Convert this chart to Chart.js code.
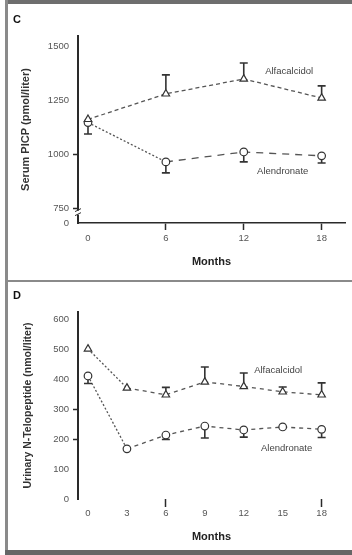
<!DOCTYPE html>
<html><head><meta charset="utf-8">
<script src="https://cdn.jsdelivr.net/npm/chart.js@4"></script>
<style>
html,body{margin:0;padding:0;background:#fff;width:352px;height:555px;overflow:hidden;position:relative}
.f{position:absolute;background:#7a7a7a}
canvas{position:absolute;left:0}
</style></head><body>
<div class="f" style="left:5px;top:0;width:347px;height:4px;background:#6e6e6e"></div>
<div class="f" style="left:5px;top:0;width:3px;height:555px;background:#8a8a8a"></div>
<div class="f" style="left:5px;top:280px;width:347px;height:2px;background:#8a8a8a"></div>
<div class="f" style="left:5px;top:550px;width:347px;height:5px;background:#666"></div>
<canvas id="c" width="352" height="280" style="top:0"></canvas>
<canvas id="d" width="352" height="268" style="top:282px"></canvas>
<script>
// ---- Panel C data ----
const monthsC = [0, 6, 12, 18];
const alfaC = [1160, 1278, 1347, 1259];
const alfaCErr = [0, 88, 74, 56];
const alenC = [1145, 963, 1009, 991];
const alenCErr = [53, 51, 46, 33];
const yTicksC = [750, 1000, 1250, 1500];

// ---- Panel D data ----
const monthsD = [0, 3, 6, 9, 12, 15, 18];
const alfaD = [500, 370, 347, 390, 375, 357, 347];
const alfaDErr = [0, 0, 25, 50, 45, 16, 40];
const alenD = [410, 167, 213, 243, 230, 240, 232];
const alenDErr = [25, 0, 15, 40, 24, 0, 27];
const yTicksD = [0, 100, 200, 300, 400, 500, 600];

const FONT = "'Liberation Sans', Arial, sans-serif";
const INK = '#2a2a2a';

function pts(xs, ys){ return xs.map((x,i)=>({x:x, y:ys[i]})); }

const errPlugin = {
  id:'err',
  afterDatasetsDraw(chart){
    const ctx = chart.ctx, xs = chart.scales.x, ys = chart.scales.y;
    chart.data.datasets.forEach(ds=>{
      if(!ds.err) return;
      ctx.save();
      ctx.strokeStyle = '#333'; ctx.lineWidth = 1.6;
      ds.data.forEach((p,i)=>{
        const e = ds.err[i]; if(!e) return;
        const px = xs.getPixelForValue(p.x);
        const y0 = ys.getPixelForValue(p.y);
        const y1 = ys.getPixelForValue(p.y + ds.errDir*e);
        ctx.beginPath(); ctx.moveTo(px, y0 + (ds.errDir>0?-4:4)); ctx.lineTo(px, y1);
        ctx.moveTo(px-4, y1); ctx.lineTo(px+4, y1); ctx.stroke();
      });
      ctx.restore();
    });
  }
};

function textPlugin(opts){
  return {
    id:'txt',
    afterDraw(chart){
      const ctx = chart.ctx, a = chart.chartArea, xs = chart.scales.x, ys = chart.scales.y;
      ctx.save();
      // y tick marks
      ctx.strokeStyle = INK; ctx.lineWidth = 1.5;
      opts.yTickShow.forEach(v=>{
        const y = Math.round(ys.getPixelForValue(v)) + 0.5;
        ctx.beginPath(); ctx.moveTo(a.left - 5, y); ctx.lineTo(a.left, y); ctx.stroke();
      });
      // panel letter
      ctx.fillStyle = '#111'; ctx.font = 'bold 11px ' + FONT;
      ctx.textAlign = 'left'; ctx.textBaseline = 'middle';
      ctx.fillText(opts.letter, 13, opts.letterY);
      // y title
      ctx.save();
      ctx.translate(opts.yTitleX, (a.top + a.bottom)/2 + opts.yTitleDy);
      ctx.rotate(-Math.PI/2);
      ctx.textAlign = 'center'; ctx.fillStyle = '#333';
      ctx.font = 'bold ' + opts.yTitleSize + 'px ' + FONT;
      ctx.fillText(opts.yTitle, 0, 0);
      ctx.restore();
      // x title
      ctx.fillStyle = '#222'; ctx.font = 'bold 11px ' + FONT; ctx.textAlign = 'center';
      ctx.fillText('Months', (a.left + a.right)/2, opts.xTitleY);
      // series labels
      ctx.fillStyle = '#444'; ctx.font = '9.5px ' + FONT;
      opts.labels.forEach(l=>{
        ctx.fillText(l.t, xs.getPixelForValue(l.x), ys.getPixelForValue(l.y));
      });
      // axis break
      if(opts.brk){
        const x = a.left, yb = ys.getPixelForValue(opts.brk);
        ctx.fillStyle = '#fff'; ctx.fillRect(x-3, yb-2, 6, 4);
        ctx.strokeStyle = '#333'; ctx.lineWidth = 1;
        ctx.beginPath();
        ctx.moveTo(x-3, yb-1); ctx.lineTo(x+3, yb-4);
        ctx.moveTo(x-3, yb+3); ctx.lineTo(x+3, yb);
        ctx.stroke();
      }
      ctx.restore();
    }
  };
}

function tickCol(list){ return c => (c.tick && list.includes(c.tick.value)) ? INK : 'rgba(0,0,0,0)'; }

function makeChart(id, cfg){
  return new Chart(document.getElementById(id), {
    type:'line',
    data:{ datasets: cfg.datasets },
    options:{
      responsive:false, animation:false,
      layout:{ padding:{ top: cfg.top, right:7, left:0, bottom:0 } },
      plugins:{ legend:{display:false}, tooltip:{enabled:false} },
      scales:{
        x:{ type:'linear', min:-0.77, max:19.8,
            afterBuildTicks: s => { s.ticks = cfg.xTicks.map(v=>({value:v})); },
            afterFit: s => { s.height = cfg.xH; },
            grid:{ drawOnChartArea:false, drawTicks:true, tickLength: cfg.xTickLen, tickColor: tickCol(cfg.xTickShow), tickWidth:1.5 },
            border:{ display: cfg.xBorder, color:INK, width:1.6 },
            ticks:{ color:'#555', font:{ family:FONT, size:9.5 }, padding: cfg.xPad, autoSkip:false, maxRotation:0 } },
        y:{ type:'linear', min: cfg.yMin, max: cfg.yMax,
            afterBuildTicks: s => { s.ticks = cfg.yTicks.map(v=>({value:v})); },
            afterFit: s => { s.width = 78; },
            grid:{ drawOnChartArea:false, drawTicks:true, tickLength:5, color:'rgba(0,0,0,0)' },
            border:{ display:true, color:INK, width:2 },
            ticks:{ color:'#555', font:{ family:FONT, size:9.5 }, padding:4, autoSkip:false,
                    callback: cfg.yLabel } }
      }
    },
    plugins:[errPlugin, textPlugin(Object.assign({yTickShow: cfg.yTickShow}, cfg.text))]
  });
}

function ds(data, style, err, dir, dashFn){
  return { data, err, errDir: dir, borderColor:'#555', borderWidth:1.3,
    pointStyle: style, pointRadius: style==='triangle'?4.3:3.8, pointBorderWidth:1.2,
    pointBorderColor:'#333', pointBackgroundColor:'#fff', tension:0,
    segment:{ borderDash: dashFn } };
}

const C_BOTTOM = 680;
makeChart('c', {
  top:36, xH:57, xTickLen:7, xPad:3, xBorder:true,
  xTicks: monthsC, xTickShow:[6,12,18],
  yMin: C_BOTTOM, yMax:1546, yTicks:[C_BOTTOM].concat(yTicksC), yTickShow:[750,1000],
  yLabel: v => v===C_BOTTOM ? '0' : String(v),
  datasets:[
    ds(pts(monthsC, alfaC), 'triangle', alfaCErr, 1, () => [4,3]),
    ds(pts(monthsC, alenC), 'circle', alenCErr, -1, c => c.p0DataIndex===0 ? [2,2] : [7,6])
  ],
  text:{ letter:'C', letterY:20, yTitle:'Serum PICP (pmol/liter)', yTitleX:26, yTitleDy:0, yTitleSize:11,
         xTitleY:262, brk:728,
         labels:[{t:'Alfacalcidol', x:15.5, y:1384},{t:'Alendronate', x:15.0, y:917}] }
});

makeChart('d', {
  top:30, xH:51, xTickLen:8, xPad:1, xBorder:false,
  xTicks: monthsD, xTickShow:[6,18],
  yMin:0, yMax:623, yTicks:yTicksD, yTickShow:[200,300],
  yLabel: v => String(v),
  datasets:[
    ds(pts(monthsD, alfaD), 'triangle', alfaDErr, 1, c => c.p0DataIndex===0 ? [2,2] : [4,4]),
    ds(pts(monthsD, alenD), 'circle', alenDErr, -1, c => c.p0DataIndex===0 ? [2,2] : [4,4])
  ],
  text:{ letter:'D', letterY:14, yTitle:'Urinary N-Telopeptide (nmol/liter)', yTitleX:28, yTitleDy:0, yTitleSize:10.5,
         xTitleY:255,
         labels:[{t:'Alfacalcidol', x:14.65, y:430},{t:'Alendronate', x:15.3, y:167}] }
});
</script>
</body></html>
